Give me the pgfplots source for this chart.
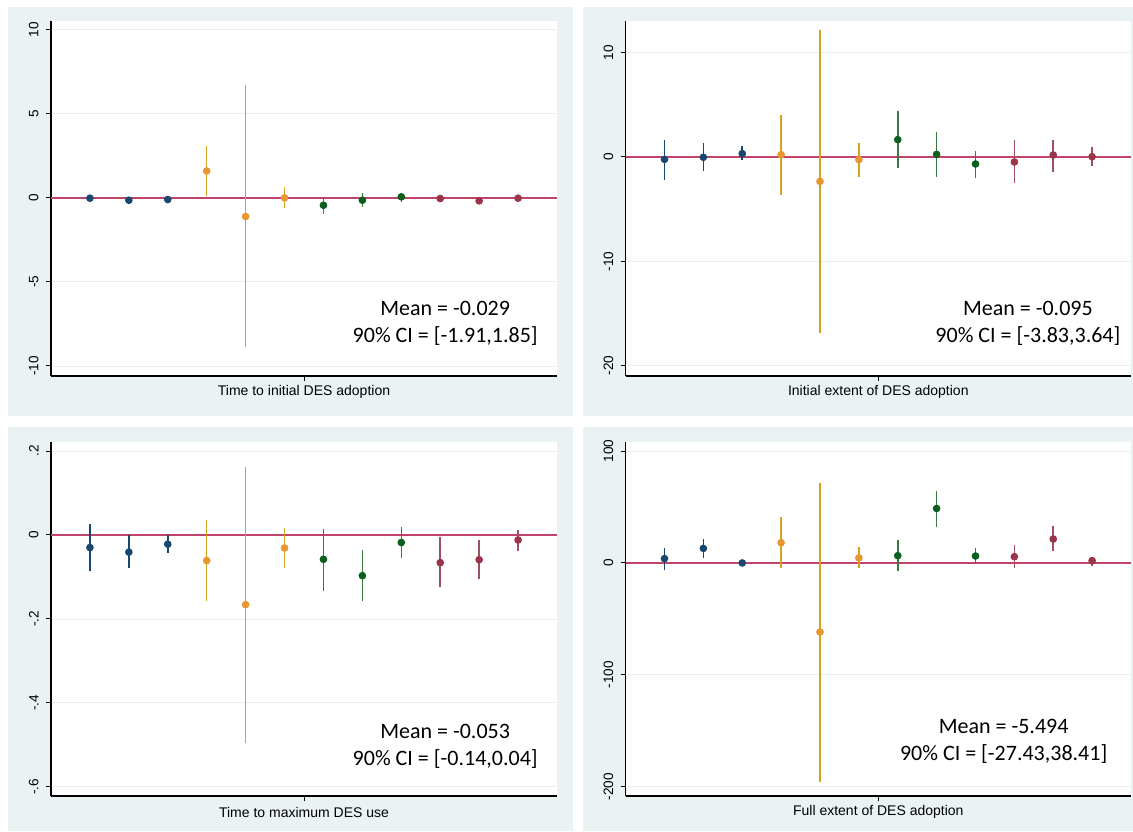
\documentclass[border=0pt]{standalone}
\usepackage{pgfplots}
\pgfplotsset{compat=1.18}
\usepackage{fontspec}
\setmainfont{Liberation Sans}
\newfontfamily\calfont{Carlito}
\definecolor{panelbg}{HTML}{EAF2F3}
\definecolor{cnavy}{HTML}{1A476F}
\definecolor{corange}{HTML}{E8962F}
\definecolor{corangeline}{HTML}{D6A021}
\definecolor{cgreen}{HTML}{0A5F1C}
\definecolor{cgreenline}{HTML}{3C7A40}
\definecolor{cmaroon}{HTML}{9A3548}
\definecolor{cmaroonline}{HTML}{A05060}
\definecolor{zeroline}{HTML}{C2436A}
\definecolor{gridc}{HTML}{EEEEEE}

\pgfkeys{/pgfplots/table/ebt/.style={x=x, y=y, y error plus expr=\thisrow{hi}-\thisrow{y}, y error minus expr=\thisrow{y}-\thisrow{lo}}}
\tikzset{
  meantext/.style={align=center, font=\calfont\fontsize{11}{13.6}\selectfont},
  ttl/.style={font=\fontsize{7}{8}\selectfont, yshift=-8pt},
}
\pgfplotsset{
  panel/.style={
    scale only axis,
    width=253pt, height=177.3pt,
    anchor=south west,
    xmin=0, xmax=13,
    axis x line*=bottom, axis y line*=left,
    axis line style={-, line width=0.6pt, black},
    axis background/.style={fill=white},
    xtick={6.5}, xticklabels={},
    tick align=outside, major tick length=2.5pt,
    tick style={black, line width=0.5pt},
    ymajorgrids, grid style={gridc, line width=0.4pt},
    yticklabel style={rotate=90, anchor=south, font=\fontsize{6.8}{7}\selectfont, inner sep=3.5pt},
    clip=false,
  },
  grp/.style n args={2}{only marks, mark=*, mark size=1.7pt, color=#1,
    error bars/.cd, y dir=both, y explicit, error mark=none,
    error bar style={color=#2, line width=0.8pt}},
  zl/.style={zeroline, line width=0.7pt, no marks},
}

\begin{document}
\begin{tikzpicture}
\useasboundingbox (0,0) rectangle (566.5pt,415.5pt);
\fill[white] (0,0) rectangle (566.5pt,415.5pt);
\fill[panelbg] (4pt,207.5pt) rectangle (286.5pt,412pt);
\fill[panelbg] (291.5pt,207.5pt) rectangle (566.5pt,412pt);
\fill[panelbg] (4pt,0pt) rectangle (286.5pt,202pt);
\fill[panelbg] (291.5pt,0pt) rectangle (566.5pt,202pt);

% ---------- Panel 1 ----------
\begin{axis}[panel, at={(25.5pt,227.5pt)}, ymin=-10.6, ymax=10.5,
  ytick={-10,-5,0,5,10}, yticklabels={-10,-5,0,5,10}]
\addplot[zl] coordinates {(0,0) (13,0)};
\addplot[grp={cnavy}{cnavy}] table[ebt] {
x y lo hi
1 -0.02 -0.10 0.06
2 -0.14 -0.22 -0.06
3 -0.10 -0.18 -0.02
};
\addplot[grp={corange}{corangeline}] table[ebt] {
x y lo hi
4 1.60 0.14 3.10
5 -1.11 -8.85 6.74
6 0.00 -0.60 0.63
};
\addplot[grp={cgreen}{cgreenline}] table[ebt] {
x y lo hi
7 -0.44 -0.95 0.04
8 -0.14 -0.54 0.30
9 0.06 -0.22 0.26
};
\addplot[grp={cmaroon}{cmaroonline}] table[ebt] {
x y lo hi
10 -0.04 -0.20 0.05
11 -0.18 -0.26 -0.10
12 -0.02 -0.08 0.04
};
\node[meantext] at (rel axis cs:0.779,0.148) {Mean = -0.029\\90\% CI = [-1.91,1.85]};
\node[ttl] at (rel axis cs:0.5,0) {Time to initial DES adoption};
\end{axis}

% ---------- Panel 2 ----------
\begin{axis}[panel, at={(312.8pt,227.5pt)}, width=252.7pt, ymin=-21, ymax=13,
  ytick={-20,-10,0,10}, yticklabels={-20,-10,0,10}]
\addplot[zl] coordinates {(0,0) (13,0)};
\addplot[grp={cnavy}{cnavy}] table[ebt] {
x y lo hi
1 -0.23 -2.18 1.66
2 -0.03 -1.34 1.34
3 0.32 -0.32 1.02
};
\addplot[grp={corange}{corangeline}] table[ebt] {
x y lo hi
4 0.22 -3.60 3.99
5 -2.34 -16.90 12.14
6 -0.26 -1.89 1.31
};
\addplot[grp={cgreen}{cgreenline}] table[ebt] {
x y lo hi
7 1.66 -1.09 4.44
8 0.25 -1.95 2.40
9 -0.67 -1.98 0.57
};
\addplot[grp={cmaroon}{cmaroonline}] table[ebt] {
x y lo hi
10 -0.48 -2.50 1.60
11 0.19 -1.41 1.66
12 0.03 -0.90 0.92
};
\node[meantext] at (rel axis cs:0.796,0.148) {Mean = -0.095\\90\% CI = [-3.83,3.64]};
\node[ttl] at (rel axis cs:0.5,0) {Initial extent of DES adoption};
\end{axis}

% ---------- Panel 3 ----------
\begin{axis}[panel, at={(25.5pt,17.5pt)}, height=177.1pt, ymin=-0.622, ymax=0.222,
  ytick={-0.6,-0.4,-0.2,0,0.2}, yticklabels={-.6,-.4,-.2,0,.2}]
\addplot[zl] coordinates {(0,0) (13,0)};
\addplot[grp={cnavy}{cnavy}] table[ebt] {
x y lo hi
1 -0.030 -0.085 0.025
2 -0.041 -0.078 0.000
3 -0.022 -0.043 0.000
};
\addplot[grp={corange}{corangeline}] table[ebt] {
x y lo hi
4 -0.061 -0.158 0.036
5 -0.166 -0.495 0.162
6 -0.031 -0.078 0.016
};
\addplot[grp={cgreen}{cgreenline}] table[ebt] {
x y lo hi
7 -0.058 -0.134 0.015
8 -0.097 -0.157 -0.035
9 -0.018 -0.055 0.019
};
\addplot[grp={cmaroon}{cmaroonline}] table[ebt] {
x y lo hi
10 -0.066 -0.125 -0.004
11 -0.059 -0.104 -0.013
12 -0.012 -0.038 0.013
};
\node[meantext] at (rel axis cs:0.779,0.141) {Mean = -0.053\\90\% CI = [-0.14,0.04]};
\node[ttl] at (rel axis cs:0.5,0) {Time to maximum DES use};
\end{axis}

% ---------- Panel 4 ----------
\begin{axis}[panel, at={(312.8pt,17.5pt)}, width=252.7pt, height=177.1pt, ymin=-208.3, ymax=108.3,
  ytick={-200,-100,0,100}, yticklabels={-200,-100,0,100}]
\addplot[zl] coordinates {(0,0) (13,0)};
\addplot[grp={cnavy}{cnavy}] table[ebt] {
x y lo hi
1 3.9 -6.5 13.0
2 13.0 4.5 21.4
3 0.0 -2.0 3.0
};
\addplot[grp={corange}{corangeline}] table[ebt] {
x y lo hi
4 18.1 -4.7 41.5
5 -61.7 -195.8 71.5
6 4.5 -4.7 14.0
};
\addplot[grp={cgreen}{cgreenline}] table[ebt] {
x y lo hi
7 6.5 -7.4 20.8
8 48.7 31.8 64.7
9 6.2 0.0 13.0
};
\addplot[grp={cmaroon}{cmaroonline}] table[ebt] {
x y lo hi
10 5.6 -4.7 16.3
11 21.4 10.4 32.6
12 2.1 -2.4 5.0
};
\node[meantext] at (rel axis cs:0.748,0.154) {Mean = -5.494\\90\% CI = [-27.43,38.41]};
\node[ttl] at (rel axis cs:0.5,0) {Full extent of DES adoption};
\end{axis}
\end{tikzpicture}
\end{document}
